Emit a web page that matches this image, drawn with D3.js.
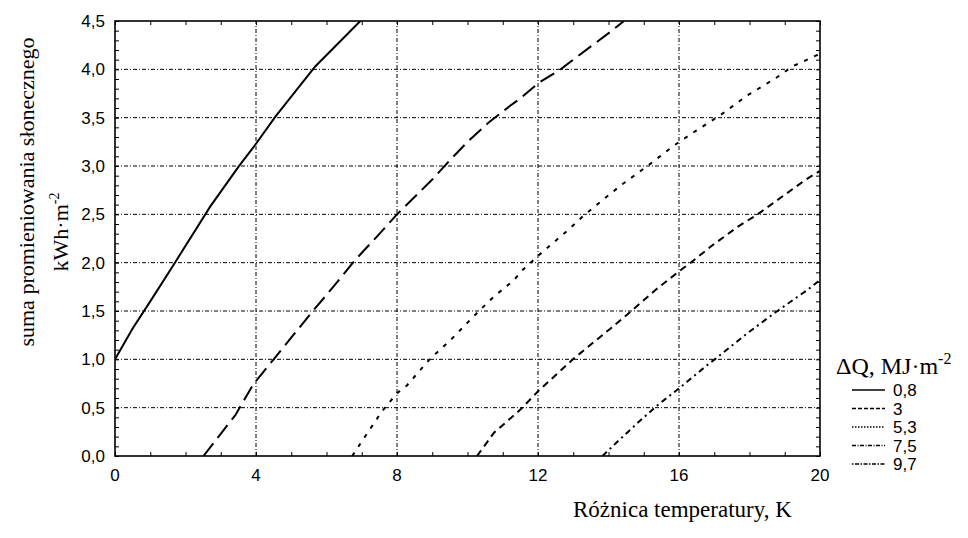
<!DOCTYPE html>
<html>
<head>
<meta charset="utf-8">
<script src="https://cdn.jsdelivr.net/npm/d3@7"></script>
<style>
  body { margin: 0; background: #fff; }
  .tick-label { font-family: "Liberation Sans", Arial, sans-serif; font-size: 17px; fill: #000; }
  .serif { font-family: "Liberation Serif", "Times New Roman", serif; fill: #000; }
</style>
</head>
<body>
<script>
// data
var seriesNames = ["0,8", "3", "5,3", "7,5", "9,7"];

var x08 = [0, 0.5, 1, 1.7, 2.7, 3.5, 4.0, 4.55, 5.68, 6.96];
var y08 = [1.0, 1.32, 1.6, 2.0, 2.58, 2.99, 3.23, 3.51, 4.03, 4.5];

var x3 = [2.51, 3.0, 3.41, 3.92, 4.5, 5.59, 6.01, 6.82, 7.43, 8.0, 9.0, 9.5, 10.0, 10.6, 11.2, 11.5, 12.02, 12.64, 13.07, 14.06, 14.44];
var y3 = [0, 0.23, 0.42, 0.74, 1.0, 1.49, 1.67, 2.03, 2.27, 2.5, 2.86, 3.06, 3.25, 3.45, 3.62, 3.70, 3.86, 4.0, 4.12, 4.39, 4.5];

var x53 = [6.73, 7.0, 7.57, 8.0, 8.28, 8.95, 9.52, 10.27, 10.75, 11.32, 11.55, 12.03, 12.83, 13.3, 14.35, 15.14, 15.85, 16.42, 17.19, 17.94, 18.75, 19.22, 19.93, 20];
var y53 = [0, 0.15, 0.46, 0.65, 0.73, 1.01, 1.20, 1.48, 1.65, 1.82, 1.92, 2.08, 2.33, 2.49, 2.80, 3.01, 3.21, 3.35, 3.53, 3.73, 3.91, 4.03, 4.15, 4.17];

var x75 = [10.27, 10.75, 11.5, 12.03, 13.02, 14.06, 14.68, 15.34, 16.0, 16.33, 16.95, 17.66, 18.23, 18.99, 19.6, 20];
var y75 = [0, 0.24, 0.48, 0.68, 1.01, 1.32, 1.51, 1.72, 1.91, 2.0, 2.18, 2.37, 2.5, 2.7, 2.86, 2.95];

var x97 = [13.83, 14.2, 14.82, 15.34, 16.0, 16.8, 17.05, 17.94, 18.75, 19.65, 20];
var y97 = [0, 0.13, 0.34, 0.51, 0.7, 0.94, 1.01, 1.27, 1.49, 1.72, 1.82];

var xTicks = [0, 4, 8, 12, 16, 20];
var yTicks = [0, 0.5, 1, 1.5, 2, 2.5, 3, 3.5, 4, 4.5];

// line styles: plot / legend
var plotDash = [null, "16,7", "4,7", "7,5", "6,4,2,4"];
var legendDash = [null, "4,2", "1.5,1.5", "4,1.5,1,1.5", "1.5,1.5,4,1.5"];

var xs = [x08, x3, x53, x75, x97];
var ys = [y08, y3, y53, y75, y97];

// setup svg
var width = 968, height = 538;
var margin = { left: 115, top: 21, right: 148, bottom: 82 };
var plotW = width - margin.left - margin.right,
    plotH = height - margin.top - margin.bottom;

var svg = d3.select("body").append("svg")
            .attr("width", width)
            .attr("height", height);

var x = d3.scaleLinear().domain([0, 20]).range([margin.left, margin.left + plotW]);
var y = d3.scaleLinear().domain([0, 4.5]).range([margin.top + plotH, margin.top]);

var fmt = function(d) { return d3.format(".1f")(d).replace(".", ","); };

// grid
var grid = svg.append("g").classed("grid", true)
              .attr("stroke", "#000").attr("stroke-width", 1)
              .attr("stroke-dasharray", "4,2,1,2");
grid.selectAll("line.gx")
    .data(xTicks.slice(1, -1))
    .enter().append("line")
      .attr("x1", function(d) { return x(d); })
      .attr("x2", function(d) { return x(d); })
      .attr("y1", y(0)).attr("y2", y(4.5));
grid.selectAll("line.gy")
    .data(yTicks.slice(1, -1))
    .enter().append("line")
      .attr("y1", function(d) { return y(d); })
      .attr("y2", function(d) { return y(d); })
      .attr("x1", x(0)).attr("x2", x(20));

// axes with inward ticks on all sides
var minorX = d3.range(0, 21, 1), minorY = d3.range(0, 4.51, 0.1);
svg.append("g").attr("transform", "translate(0," + y(0) + ")")
   .call(d3.axisTop(x).tickValues(minorX).tickSize(4).tickFormat(""));
svg.append("g").attr("transform", "translate(0," + y(4.5) + ")")
   .call(d3.axisBottom(x).tickValues(minorX).tickSize(4).tickFormat(""));
svg.append("g").attr("transform", "translate(" + x(0) + ",0)")
   .call(d3.axisRight(y).tickValues(minorY).tickSize(4).tickFormat(""));
svg.append("g").attr("transform", "translate(" + x(20) + ",0)")
   .call(d3.axisLeft(y).tickValues(minorY).tickSize(4).tickFormat(""));
svg.selectAll(".domain").remove();
svg.selectAll(".tick line").attr("stroke", "#000").attr("stroke-width", 1);

// frame
svg.append("rect")
   .attr("x", x(0)).attr("y", y(4.5))
   .attr("width", x(20) - x(0)).attr("height", y(0) - y(4.5))
   .attr("fill", "none").attr("stroke", "#000").attr("stroke-width", 1.6);

// tick labels
svg.selectAll("text.xl")
   .data(xTicks)
   .enter().append("text")
     .classed("tick-label", true)
     .attr("x", function(d) { return x(d); })
     .attr("y", 481)
     .attr("text-anchor", "middle")
     .text(function(d) { return d; });
svg.selectAll("text.yl")
   .data(yTicks)
   .enter().append("text")
     .classed("tick-label", true)
     .attr("x", 105)
     .attr("y", function(d) { return y(d) + 6; })
     .attr("text-anchor", "end")
     .text(fmt);

// curves
svg.append("clipPath").attr("id", "clip")
   .append("rect").attr("x", x(0)).attr("y", y(4.5))
   .attr("width", x(20) - x(0)).attr("height", y(0) - y(4.5));

var line = d3.line()
             .x(function(d) { return x(d[0]); })
             .y(function(d) { return y(d[1]); });

svg.append("g").attr("clip-path", "url(#clip)")
   .selectAll("path.curve")
   .data(seriesNames)
   .enter().append("path")
     .classed("curve", true)
     .attr("d", function(d, i) { return line(d3.zip(xs[i], ys[i])); })
     .attr("fill", "none")
     .attr("stroke", "#000")
     .attr("stroke-width", 2)
     .attr("stroke-dasharray", function(d, i) { return plotDash[i]; });

// axis titles
svg.append("text").classed("serif", true)
   .attr("font-size", 22)
   .attr("text-anchor", "middle")
   .attr("transform", "translate(34,192) rotate(-90)")
   .text("suma promieniowania słonecznego");
var yt2 = svg.append("text").classed("serif", true)
             .attr("font-size", 22)
             .attr("text-anchor", "middle")
             .attr("transform", "translate(68,232) rotate(-90)");
yt2.append("tspan").text("kWh·m");
yt2.append("tspan").attr("font-size", 14).attr("dy", -9).text("-2");

svg.append("text").classed("serif", true)
   .attr("font-size", 23)
   .attr("x", 573).attr("y", 517)
   .text("Różnica temperatury, K");

// legend
var lt = svg.append("text").classed("serif", true)
            .attr("font-size", 24)
            .attr("x", 836).attr("y", 374);
lt.append("tspan").text("ΔQ, MJ·m");
lt.append("tspan").attr("font-size", 16).attr("dy", -10).text("-2");

var legend = svg.append("g").classed("legend", true)
                .selectAll("g")
                .data(seriesNames)
                .enter().append("g")
                  .attr("transform", function(d, i) { return "translate(0," + (390 + i * 18.5) + ")"; });
legend.append("line")
      .attr("x1", 852).attr("x2", 885)
      .attr("stroke", "#000")
      .attr("stroke-width", function(d, i) { return i == 0 ? 1.6 : 1.3; })
      .attr("stroke-dasharray", function(d, i) { return legendDash[i]; });
legend.append("text")
      .classed("tick-label", true)
      .attr("x", 893).attr("y", 6)
      .text(function(d) { return d; });
</script>
</body>
</html>
